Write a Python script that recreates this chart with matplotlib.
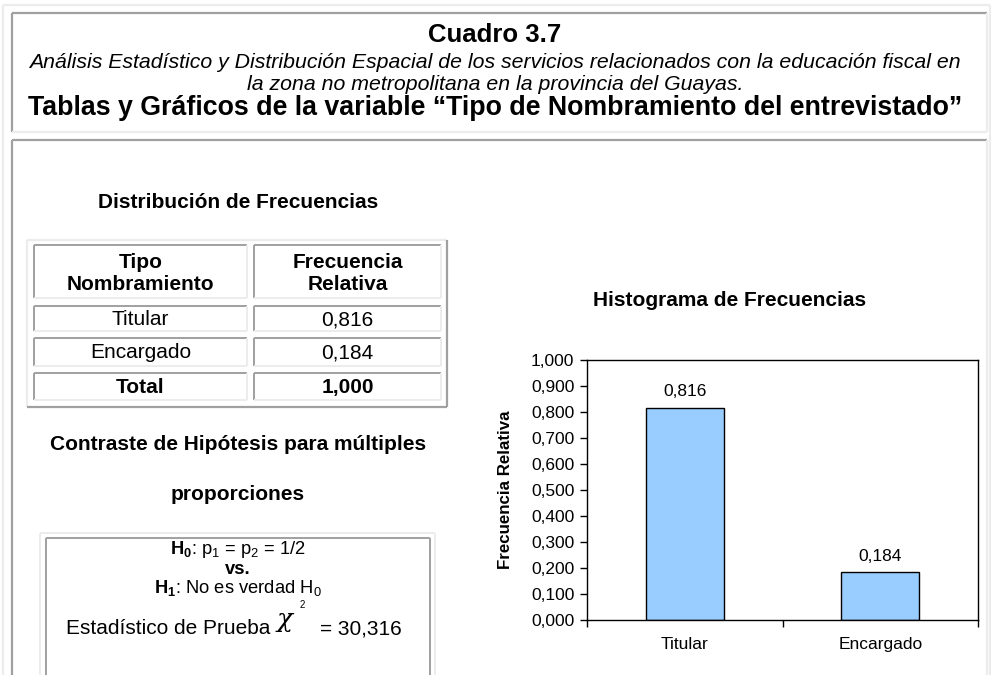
import matplotlib.pyplot as plt
from matplotlib.ticker import FixedLocator, FuncFormatter

plt.rcParams['font.family'] = ['Liberation Sans', 'DejaVu Sans']
plt.rcParams['mathtext.fontset'] = 'custom'
plt.rcParams['mathtext.rm'] = 'Liberation Sans'
plt.rcParams['mathtext.bf'] = 'Liberation Sans:bold'
plt.rcParams['mathtext.it'] = 'Liberation Sans:italic'

# --- data ---
categories = ['Titular', 'Encargado']
rel_freq = [0.816, 0.184]
total = 1.000
chi2_stat = 30.316
y_ticks = [0.0, 0.1, 0.2, 0.3, 0.4, 0.5, 0.6, 0.7, 0.8, 0.9, 1.0]

title = 'Cuadro 3.7'
subtitle_lines = ['Análisis Estadístico y Distribución Espacial de los servicios relacionados con la educación fiscal en',
                  'la zona no metropolitana en la provincia del Guayas.']
heading = 'Tablas y Gráficos de la variable \u201cTipo de Nombramiento del entrevistado\u201d'
table_header = [['Tipo', 'Nombramiento'], ['Frecuencia', 'Relativa']]


def fmt(v):
    return f'{v:.3f}'.replace('.', ',')


W, H = 991, 675
DARK = '#a0a0a0'
LIGHT = '#ececec'
BODY = 15

fig = plt.figure(figsize=(W / 100, H / 100), dpi=100)
bg = fig.add_axes([0, 0, 1, 1])
bg.set_xlim(0, W)
bg.set_ylim(H, 0)
bg.axis('off')


def box(x0, y0, x1, y1, tl, br, lw=1.6):
    # top/left in one colour, bottom/right in another (html style border)
    bg.plot([x0, x1], [y0, y0], color=tl, lw=lw, solid_capstyle='butt')
    bg.plot([x0, x0], [y0, y1], color=tl, lw=lw, solid_capstyle='butt')
    bg.plot([x0, x1], [y1, y1], color=br, lw=lw, solid_capstyle='butt')
    bg.plot([x1, x1], [y0, y1], color=br, lw=lw, solid_capstyle='butt')


# outer frame + header box + body box
box(3, 5, 990, 700, LIGHT, LIGHT)
box(12, 13, 987, 132, DARK, LIGHT)
box(12, 140, 987, 700, DARK, LIGHT)

# --- header texts ---
bg.text(495, 35, title, ha='center', va='center', fontsize=18.5, fontweight='bold')
for yy, line in zip([63, 84], subtitle_lines):
    bg.text(495, yy, line, ha='center', va='center', fontsize=15.3, style='italic')
bg.text(495, 108, heading, ha='center', va='center', fontsize=19.3, fontweight='bold')

# --- frequency table ---
bg.text(238, 202, 'Distribución de Frecuencias', ha='center', va='center',
        fontsize=BODY, fontweight='bold')
box(27, 240, 447, 407, LIGHT, DARK)
cols = [(34, 247), (254, 441)]
rows = [(245, 298), (306, 331), (338, 366), (373, 400)]
body_rows = [[c, fmt(v)] for c, v in zip(categories, rel_freq)] + [['Total', fmt(total)]]
for c, (cx0, cx1) in enumerate(cols):
    box(cx0, rows[0][0], cx1, rows[0][1], DARK, LIGHT, lw=1.4)
    for yy, word in zip([262, 284], table_header[c]):
        bg.text((cx0 + cx1) / 2, yy, word, ha='center', va='center',
                fontsize=BODY, fontweight='bold')
    for r, (ry0, ry1) in enumerate(rows[1:]):
        box(cx0, ry0, cx1, ry1, DARK, LIGHT, lw=1.4)
        bold = r == len(body_rows) - 1
        bg.text((cx0 + cx1) / 2, (ry0 + ry1) / 2 + 1, body_rows[r][c], ha='center',
                va='center', fontsize=BODY, fontweight='bold' if bold else 'normal')

# --- hypothesis test ---
bg.text(238, 445, 'Contraste de Hipótesis para múltiples', ha='center', va='center',
        fontsize=BODY, fontweight='bold')
bg.text(238, 495, 'proporciones', ha='center', va='center', fontsize=BODY, fontweight='bold')
box(40, 533, 435, 700, LIGHT, LIGHT, lw=1.4)
box(46, 538, 430, 700, DARK, DARK, lw=1.4)
HYP = 13.2
bg.text(238, 550, r'$\mathbf{H_0}$: p$_1$ = p$_2$ = 1/2', ha='center', va='center', fontsize=HYP)
bg.text(238, 569, 'vs.', ha='center', va='center', fontsize=HYP, fontweight='bold')
bg.text(238, 588, r'$\mathbf{H_1}$: No es verdad H$_0$', ha='center', va='center', fontsize=HYP)
bg.text(66, 629, 'Estadístico de Prueba', ha='left', va='center', fontsize=BODY)
bg.text(277, 620, '\u03c7', ha='left', va='center', fontsize=19, style='italic',
        family=['DejaVu Serif'])
bg.text(300, 605, '2', ha='left', va='center', fontsize=7)
bg.text(320, 629, '= ' + fmt(chi2_stat), ha='left', va='center', fontsize=BODY)

# --- bar chart ---
bg.text(730, 300, 'Histograma de Frecuencias', ha='center', va='center',
        fontsize=BODY, fontweight='bold')
ax = fig.add_axes([587 / W, (H - 620) / H, 391 / W, 260 / H])
x = list(range(len(categories)))
ax.bar(x, rel_freq, width=0.4, color='#99ccff', edgecolor='black', linewidth=1.0)
for xi, v in zip(x, rel_freq):
    ax.annotate(fmt(v), (xi, v), xytext=(0, 11.5), textcoords='offset points',
                ha='center', va='center', fontsize=12.5)
ax.set_xlim(-0.5, len(categories) - 0.5)
ax.set_ylim(0, 1.0)
ax.yaxis.set_major_locator(FixedLocator(y_ticks))
ax.yaxis.set_major_formatter(FuncFormatter(lambda v, p: fmt(v)))
ax.xaxis.set_major_locator(FixedLocator([i - 0.5 for i in range(len(categories) + 1)]))
ax.xaxis.set_major_formatter(FuncFormatter(lambda v, p: ''))
ax.xaxis.set_minor_locator(FixedLocator(x))
ax.set_xticklabels(categories, minor=True)
ax.tick_params(axis='x', which='minor', length=0, labelsize=12.5, pad=12)
ax.tick_params(axis='x', which='major', length=5, width=1.0, direction='out')
ax.tick_params(axis='y', length=5, width=1.0, direction='out', labelsize=12.5, pad=4)
ax.set_ylabel('Frecuencia Relativa', fontsize=12.2, fontweight='bold', va='center')
ax.yaxis.set_label_coords((505 - 587) / 391, 0.5)
for s in ax.spines.values():
    s.set_linewidth(1.0)
    s.set_color('black')

fig.savefig('out.png', dpi=100)
